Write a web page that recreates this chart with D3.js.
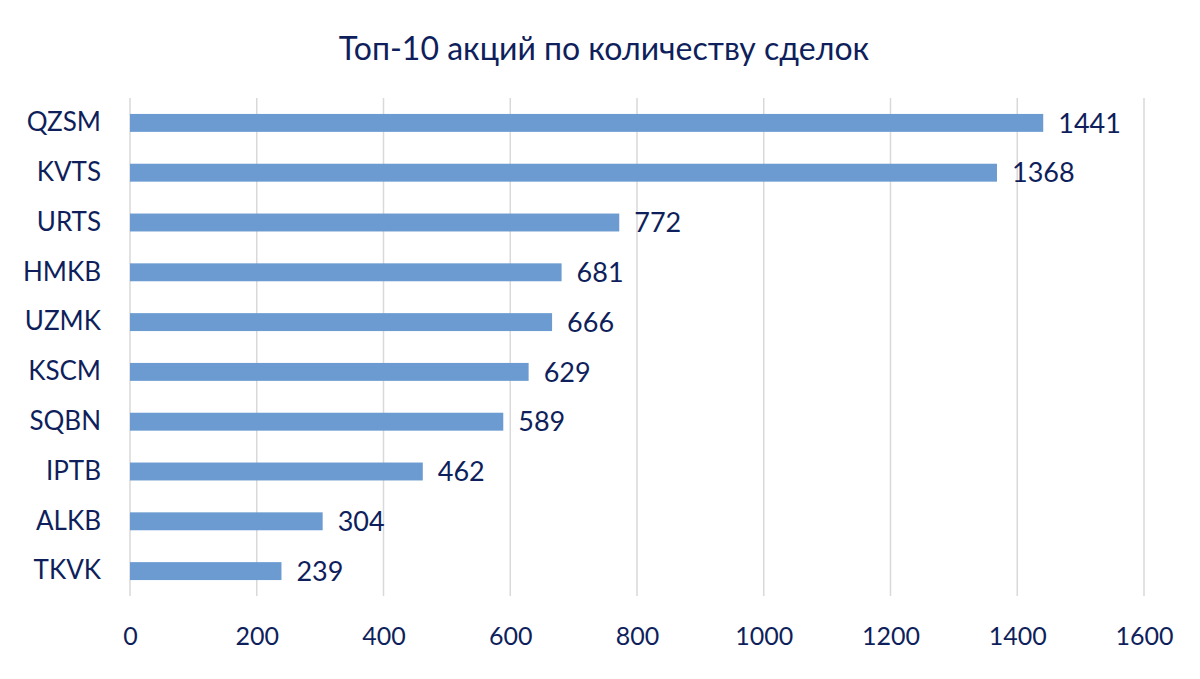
<!DOCTYPE html>
<html>
<head>
<meta charset="utf-8">
<script src="https://cdn.jsdelivr.net/npm/d3@7"></script>
<style>
  body { margin: 0; background: #fff; }
  text { font-family: Lato, "Open Sans", sans-serif; fill: #0f1f5c; }
</style>
</head>
<body>
<div id="chart"></div>
<script>
// data
const tickers = ["QZSM", "KVTS", "URTS", "HMKB", "UZMK", "KSCM", "SQBN", "IPTB", "ALKB", "TKVK"];
const deals = [1441, 1368, 772, 681, 666, 629, 589, 462, 304, 239];
const xTicks = [0, 200, 400, 600, 800, 1000, 1200, 1400, 1600];
const chartTitle = "Топ-10 акций по количеству сделок";

const width = 1200, height = 679;
const margin = {top: 98, right: 56, bottom: 83, left: 130};

const svg = d3.select("#chart")
  .append("svg")
  .attr("width", width)
  .attr("height", height);

// scales
const x = d3.scaleLinear()
  .domain([0, 1600])
  .range([margin.left, width - margin.right]);

const y = d3.scaleBand()
  .domain(tickers)
  .range([margin.top, height - margin.bottom])
  .paddingInner(0.64)
  .paddingOuter(0.32);

// gridlines
svg.append("g")
  .selectAll("line")
  .data(xTicks)
  .enter()
  .append("line")
    .attr("x1", d => x(d))
    .attr("x2", d => x(d))
    .attr("y1", margin.top)
    .attr("y2", height - margin.bottom)
    .attr("stroke", "#d9d9d9")
    .attr("stroke-width", 1.5);

// x axis labels
const xAxis = svg.append("g")
  .attr("transform", `translate(0,${height - margin.bottom})`)
  .call(d3.axisBottom(x).tickValues(xTicks).tickFormat(d3.format("d")).tickSize(0).tickPadding(31));
xAxis.select(".domain").remove();
xAxis.selectAll("text")
  .attr("font-size", "25px")
  .style("font-family", "Lato, sans-serif")
  .attr("fill", "#0f1f5c");

// y axis labels
const yAxis = svg.append("g")
  .attr("transform", `translate(${margin.left},0)`)
  .call(d3.axisLeft(y).tickSize(0).tickPadding(29));
yAxis.select(".domain").remove();
yAxis.selectAll("text")
  .attr("font-size", "26px")
  .style("font-family", "Lato, sans-serif")
  .attr("fill", "#0f1f5c");

// bars
const rows = tickers.map((t, i) => ({ticker: t, count: deals[i]}));

svg.selectAll(".bar")
  .data(rows)
  .enter()
  .append("rect")
    .attr("class", "bar")
    .attr("x", x(0))
    .attr("y", d => y(d.ticker))
    .attr("width", d => x(d.count) - x(0))
    .attr("height", y.bandwidth())
    .attr("fill", "#6b9bd1");

// value labels
svg.selectAll(".val")
  .data(rows)
  .enter()
  .append("text")
    .attr("class", "val")
    .attr("x", d => x(d.count) + 15)
    .attr("y", d => y(d.ticker) + y.bandwidth() / 2)
    .attr("dy", "0.36em")
    .attr("font-size", "27px")
    .text(d => d.count);

// title
svg.append("text")
  .attr("x", 604)
  .attr("y", 60)
  .attr("text-anchor", "middle")
  .attr("font-size", "32px")
  .text(chartTitle);
</script>
</body>
</html>
